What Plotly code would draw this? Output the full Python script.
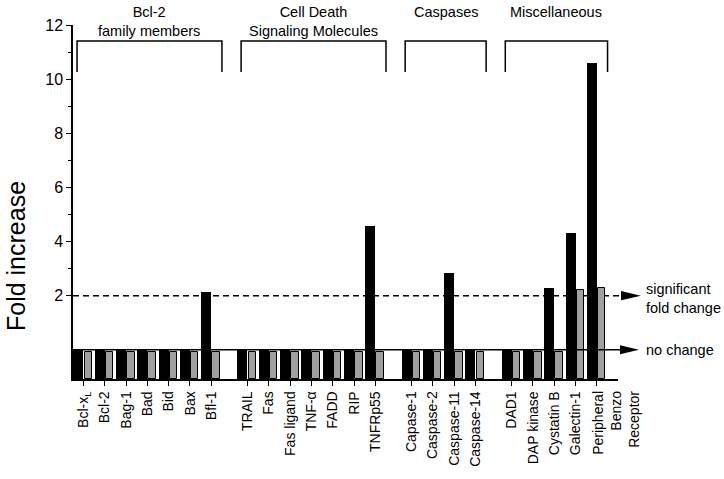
import plotly.graph_objects as go

# ---- data ----
groups = ["Bcl-2<br>family members", "Cell Death<br>Signaling Molecules", "Caspases", "Miscellaneous"]
group_sizes = [7, 7, 4, 5]
categories = ["Bcl-x<sub>L</sub>", "Bcl-2", "Bag-1", "Bad", "Bid", "Bax", "Bfl-1",
              "TRAIL", "Fas", "Fas ligand", "TNF-α", "FADD", "RIP", "TNFRp55",
              "Capase-1", "Caspase-2", "Caspase-11", "Caspase-14",
              "DAD1", "DAP kinase", "Cystatin B", "Galectin-1", "Peripheral<br>Benzo<br>Receptor"]
black_vals = [0, 0, 0, 0, 0, 0, 2.15,
              0, 0, 0, 0, 0, 0, 4.57,
              0, 0, 2.82, 0,
              0, 0, 2.29, 4.33, 10.59]
gray_vals = [-0.1, -0.1, -0.1, -0.1, -0.1, -0.1, -0.1,
             -0.1, -0.1, -0.1, -0.1, -0.1, -0.1, -0.1,
             -0.1, -0.1, -0.1, -0.1,
             -0.1, -0.1, -0.1, 2.22, 2.29]
y_tickvals = [2, 4, 6, 8, 10, 12]
y_minor = [3, 5, 7, 9, 11]
sig_level = 2
no_change_level = 0

# ---- layout helpers ----
GAP = 0.7
pos = []
i = 0
for g, n in enumerate(group_sizes):
    for _ in range(n):
        pos.append(i + GAP * g)
        i += 1

YMIN, YMAX = -1.08, 12
XMIN, XMAX = -0.49, 25.09
L, T, W, H = 73, 25, 545, 357

def px2paper(px):
    return (px - L) / W

FONT = "Liberation Sans, Arial, sans-serif"

fig = go.Figure()
fig.add_trace(go.Bar(x=pos, y=[v - YMIN for v in black_vals], base=YMIN,
                     offset=-0.47, width=0.47,
                     marker=dict(color="black", line=dict(width=0)), showlegend=False))
fig.add_trace(go.Bar(x=pos, y=[v - YMIN for v in gray_vals], base=YMIN,
                     offset=0.05, width=0.35,
                     marker=dict(color="#a0a0a0", line=dict(color="black", width=1)), showlegend=False))

shapes = []
shapes.append(dict(type="line", xref="paper", yref="y", x0=0, x1=px2paper(622),
                   y0=sig_level, y1=sig_level, line=dict(color="black", width=1.5, dash="6px,4px"),
                   layer="below"))
hh = 0.17
shapes.append(dict(type="path", xref="paper", yref="y",
                   path=f"M{px2paper(621)},{sig_level-hh} L{px2paper(641)},{sig_level} L{px2paper(621)},{sig_level+hh} Z",
                   fillcolor="black", line=dict(width=0)))
shapes.append(dict(type="line", xref="paper", yref="y", x0=0, x1=px2paper(621),
                   y0=no_change_level, y1=no_change_level, line=dict(color="black", width=1.5),
                   layer="above"))
shapes.append(dict(type="path", xref="paper", yref="y",
                   path=f"M{px2paper(620)},{no_change_level-hh} L{px2paper(639)},{no_change_level} L{px2paper(620)},{no_change_level+hh} Z",
                   fillcolor="black", line=dict(width=0)))

annotations = []
start = 0
for g, n in enumerate(group_sizes):
    x0 = pos[start] - 0.3
    x1 = pos[start + n - 1] + 0.5
    shapes.append(dict(type="path", xref="x", yref="y",
                       path=f"M{x0},10.26 L{x0},11.41 L{x1},11.41 L{x1},10.26",
                       line=dict(color="black", width=1.5)))
    annotations.append(dict(x=(x0 + x1) / 2, xref="x", y=1 + (T - 2) / H, yref="paper",
                            text=groups[g], showarrow=False, xanchor="center", yanchor="top",
                            font=dict(size=14.5, family=FONT, color="black")))
    start += n

annotations.append(dict(x=px2paper(644), xref="paper", y=1.88, yref="y",
                        text="significant<br>fold change", showarrow=False, xanchor="left",
                        yanchor="middle", align="left",
                        font=dict(size=14.5, family=FONT, color="black")))
annotations.append(dict(x=px2paper(644), xref="paper", y=no_change_level, yref="y",
                        text="no change", showarrow=False, xanchor="left", yanchor="middle",
                        font=dict(size=14.5, family=FONT, color="black")))
annotations.append(dict(x=px2paper(16), xref="paper", y=1 - (258 - T) / H, yref="paper",
                        text="Fold increase", showarrow=False, textangle=-90,
                        xanchor="center", yanchor="middle",
                        font=dict(size=25, family=FONT, color="black")))

# multi-line last label: first line at the tick, following lines to the right
ticktext = categories[:-1] + [""]
annotations.append(dict(x=pos[-1], xref="x", xshift=-9, y=-(10 / H), yref="paper",
                        text=categories[-1], showarrow=False, textangle=-90,
                        xanchor="left", yanchor="top", align="right",
                        font=dict(size=14, family=FONT, color="black")))

fig.update_layout(
    width=724, height=479,
    margin=dict(l=L, r=724 - L - W, t=T, b=479 - T - H),
    paper_bgcolor="white", plot_bgcolor="white",
    barmode="overlay", bargap=0,
    shapes=shapes, annotations=annotations,
    font=dict(family=FONT, color="black"),
    xaxis=dict(range=[XMIN, XMAX], tickvals=pos, ticktext=ticktext, tickangle=-90,
               ticks="outside", ticklen=5, tickwidth=1.2, tickcolor="black",
               showline=True, linecolor="black", linewidth=1.5, showgrid=False, zeroline=False,
               tickfont=dict(size=14, family=FONT, color="black")),
    yaxis=dict(range=[YMIN, YMAX], tickvals=y_tickvals, ticks="outside", ticklen=5,
               tickwidth=1.2, tickcolor="black",
               minor=dict(tickvals=y_minor, ticks="outside", ticklen=3, tickcolor="black", tickwidth=1.2),
               showline=True, linecolor="black", linewidth=1.5, showgrid=False, zeroline=False,
               tickfont=dict(size=16, family=FONT, color="black")),
)

fig.write_html("out.html", config={"displayModeBar": False},
               post_script="document.body.style.margin='0';document.body.style.padding='0';"
                           "document.documentElement.style.overflow='hidden';")
